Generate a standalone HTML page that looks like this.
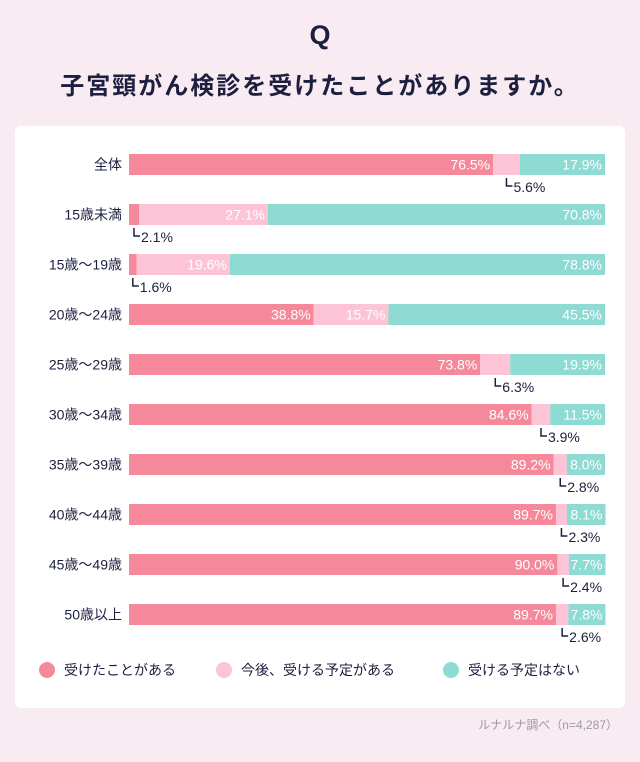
<!DOCTYPE html>
<html><head><meta charset="utf-8">
<style>
body{margin:0;width:640px;height:762px;background:#f8ebf1;font-family:"Liberation Sans","Noto Sans CJK JP",sans-serif;color:#1c1f3f;position:relative;overflow:hidden}
.q{position:absolute;top:20px;left:0;width:640px;text-align:center;font-size:27px;font-weight:bold}
.title{position:absolute;top:66px;left:0;width:640px;text-align:center;font-size:24px;font-weight:bold;letter-spacing:2px}
.card{position:absolute;left:15px;top:126px;width:610px;height:582px;background:#fff;border-radius:6px}
.src{position:absolute;right:22px;top:716px;font-size:12px;color:#9a9aa8}
</style></head><body>
<div class="q">Q</div>
<div class="title">子宮頸がん検診を受けたことがありますか。</div>
<div class="card"></div>
<svg id="c" width="640" height="762" style="position:absolute;left:0;top:0"></svg>
<div class="src">ルナルナ調べ（n=4,287）</div>
<script>
const categories=["全体","15歳未満","15歳～19歳","20歳～24歳","25歳～29歳","30歳～34歳","35歳～39歳","40歳～44歳","45歳～49歳","50歳以上"];
const had=[76.5,2.1,1.6,38.8,73.8,84.6,89.2,89.7,90.0,89.7];
const plan=[5.6,27.1,19.6,15.7,6.3,3.9,2.8,2.3,2.4,2.6];
const none=[17.9,70.8,78.8,45.5,19.9,11.5,8.0,8.1,7.7,7.8];
const seriesNames=["受けたことがある","今後、受ける予定がある","受ける予定はない"];
const colors=["#f5899b","#fdc4d7","#8ddbd3"];
const svg=document.getElementById('c');const NS="http://www.w3.org/2000/svg";
const x0=129,w=476,y0=154,step=50,bh=21;
const xs=v=>v/100*w;
function el(t,a,p){const e=document.createElementNS(NS,t);for(const k in a)e.setAttribute(k,a[k]);(p||svg).appendChild(e);return e;}
const series=[had,plan,none];
categories.forEach((c,i)=>{
  const y=y0+i*step;
  const lab=el('text',{x:122,y:y+15.5,'text-anchor':'end','font-size':14,fill:'#1c1f3f'});lab.textContent=c;
  
  
  let x=x0;
  series.forEach((s,j)=>{
    const v=s[i],bw=xs(v);
    const r=el('rect',{x:x,y:y,width:bw,height:bh,fill:colors[j]});
    
    
    if(v>=7){
      const t=el('text',{x:x+bw-3,y:y+15.5,'text-anchor':'end','font-size':14,fill:'#fff'});t.textContent=v.toFixed(1)+'%';
      
      
    }else{
      const cx=x+bw/2;
      const p=el('path',{d:`M${cx} ${y+bh+3}V${y+bh+11}H${cx+6}`,stroke:'#1c1f3f','stroke-width':1.5,fill:'none'});
      
      
      const t=el('text',{x:cx+7,y:y+bh+17,'font-size':14,fill:'#1c1f3f'});t.textContent=v.toFixed(1)+'%';
      
      
    }
    x+=bw;
  });
});
const lx=[47,224,451];
seriesNames.forEach((n,j)=>{
  const ci=el('circle',{cx:lx[j],cy:670,r:8,fill:colors[j]});
  
  
  const t=el('text',{x:lx[j]+17,y:675,'font-size':14,fill:'#1c1f3f'});t.textContent=n;
  
  
});
</script>
</body></html>
